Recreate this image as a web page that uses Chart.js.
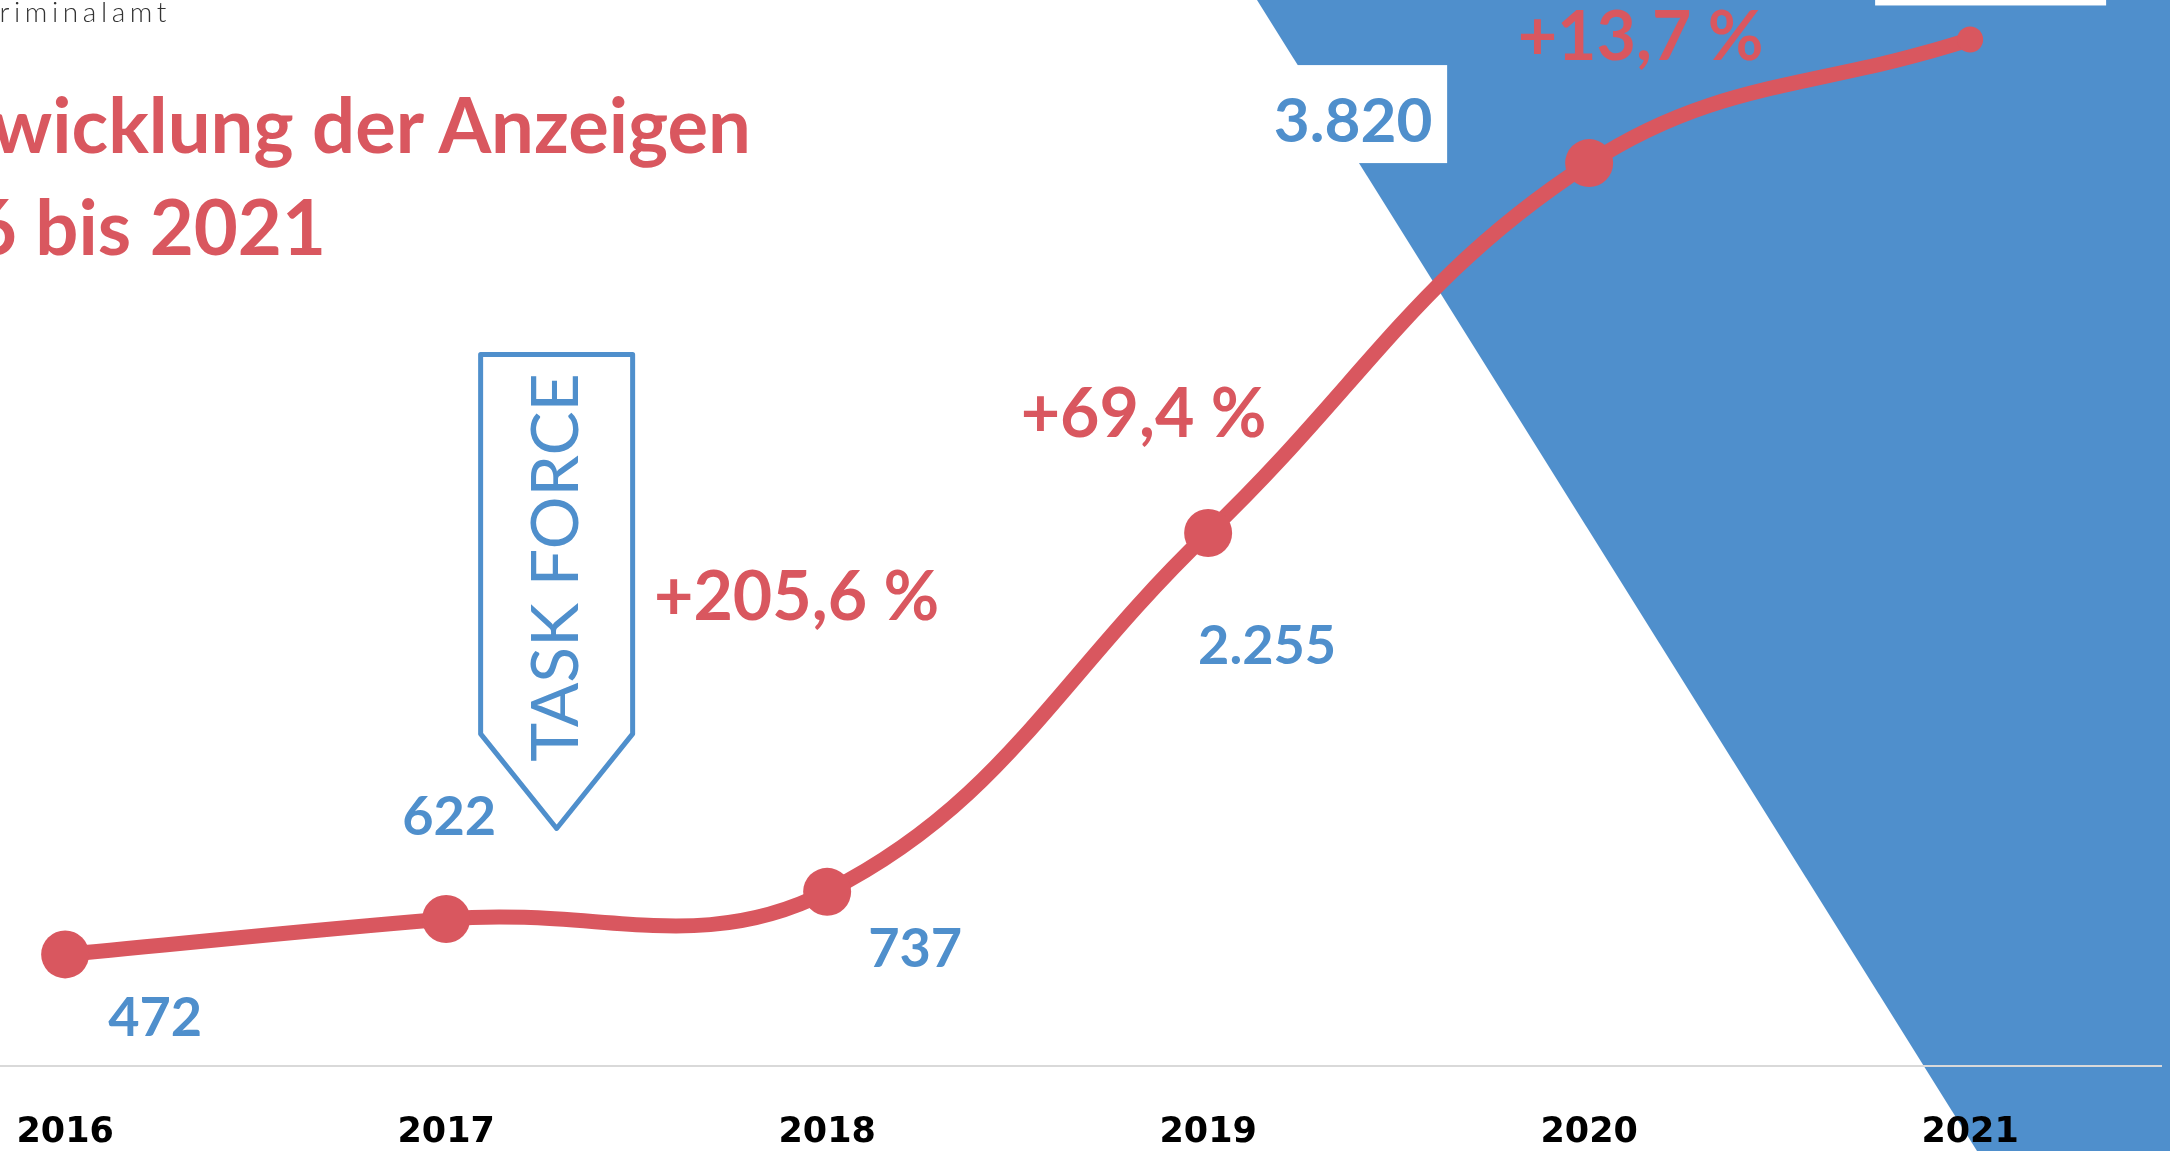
<!DOCTYPE html>
<html lang="de">
<head>
    <meta charset="UTF-8">
    <title>Entwicklung der Anzeigen 2016 bis 2021</title>
    <script src="https://cdn.jsdelivr.net/npm/chart.js"></script>
    <style>
        html, body { margin: 0; padding: 0; background: #fff; overflow: hidden; }
        #wrap { position: relative; width: 2170px; height: 1151px; overflow: hidden; }
        #chart { position: absolute; left: 0; top: 0; }
        .src {
            position: absolute; right: 1999px; top: -3px;
            font: 300 28px Lato; line-height: 1; letter-spacing: 4.6px;
            color: #333; white-space: nowrap;
        }
        .title {
            position: absolute; font: 700 76px Lato; line-height: 1;
            color: #D9575F; white-space: nowrap;
        }
    </style>
</head>
<body>
<div id="wrap">
    <canvas id="chart" width="2170" height="1151"></canvas>
    <div class="src">Landeskriminalamt</div>
    <div class="title" style="right: 1419px; top: 86px;">Entwicklung der Anzeigen</div>
    <div class="title" style="right: 1844px; top: 188px;">2016 bis 2021</div>
</div>

<script>
    // data
    const years = [2016, 2017, 2018, 2019, 2020, 2021];
    const anzeigen = [472, 622, 737, 2255, 3820, 4343];
    const changeLabels = ["", "", "+205,6 %", "+69,4 %", "+13,7 %"]; // change into the next year

    const red = "#D9575F";
    const blue = "#4F8FCC";

    function fmt(v) {
        return String(v).replace(/\B(?=(\d{3})+(?!\d))/g, ".");
    }

    // blue backdrop on the right
    const backdrop = {
        id: "backdrop",
        beforeDraw(chart) {
            const { ctx, width, height } = chart;
            ctx.save();
            ctx.fillStyle = "#fff";
            ctx.fillRect(0, 0, width, height);
            ctx.fillStyle = blue;
            ctx.beginPath();
            ctx.moveTo(1257, 0);
            ctx.lineTo(1977, height);
            ctx.lineTo(width, height);
            ctx.lineTo(width, 0);
            ctx.closePath();
            ctx.fill();
            ctx.restore();
        }
    };

    // "TASK FORCE" arrow
    const taskForce = {
        id: "taskForce",
        beforeDatasetsDraw(chart, args, opts) {
            const ctx = chart.ctx;
            const xs = chart.scales.x, ys = chart.scales.y;
            const x = xs.getPixelForValue(opts.year);
            const top = ys.getPixelForValue(opts.top);
            const shoulder = ys.getPixelForValue(opts.shoulder);
            const tip = ys.getPixelForValue(opts.tip);
            const hw = 76;
            ctx.save();
            ctx.strokeStyle = blue;
            ctx.lineWidth = 5;
            ctx.lineJoin = "round";
            ctx.beginPath();
            ctx.moveTo(x - hw, top);
            ctx.lineTo(x + hw, top);
            ctx.lineTo(x + hw, shoulder);
            ctx.lineTo(x, tip);
            ctx.lineTo(x - hw, shoulder);
            ctx.closePath();
            ctx.stroke();
            ctx.translate(x, top + 213);
            ctx.rotate(-Math.PI / 2);
            ctx.fillStyle = blue;
            ctx.font = "400 66px Lato";
            ctx.textAlign = "center";
            ctx.textBaseline = "middle";
            ctx.fillText("TASK FORCE", 0, 0);
            ctx.restore();
        }
    };

    // value labels and change labels
    const labels = {
        id: "labels",
        afterDatasetsDraw(chart, args, opts) {
            const ctx = chart.ctx;
            const pts = chart.getDatasetMeta(0).data;
            ctx.save();
            ctx.textAlign = "center";
            ctx.textBaseline = "middle";

            pts.forEach((p, i) => {
                const b = opts.boxes[i];
                if (b) {
                    ctx.fillStyle = "#fff";
                    ctx.fillRect(p.x + b[0], p.y + b[1], b[2], b[3]);
                }
                const o = opts.valueOffsets[i];
                ctx.fillStyle = blue;
                ctx.font = "700 " + opts.valueSizes[i] + "px Lato";
                ctx.fillText(fmt(anzeigen[i]), p.x + o[0], p.y + o[1]);
            });

            ctx.fillStyle = red;
            ctx.font = "700 68px Lato";
            changeLabels.forEach((t, i) => {
                if (!t) return;
                const a = pts[i], b = pts[i + 1];
                const o = opts.changeOffsets[i];
                ctx.fillText(t, (a.x + b.x) / 2 + o[0], (a.y + b.y) / 2 + o[1]);
            });
            ctx.restore();
        }
    };

    new Chart(document.getElementById("chart"), {
        type: "line",
        data: {
            datasets: [{
                data: years.map((y, i) => ({ x: y, y: anzeigen[i] })),
                borderColor: red,
                backgroundColor: red,
                borderWidth: 15,
                borderCapStyle: "round",
                tension: 0.4,
                pointRadius: [24, 24, 24, 24, 24, 13],
                pointHoverRadius: [24, 24, 24, 24, 24, 13],
                pointBorderWidth: 0,
                clip: false
            }]
        },
        options: {
            responsive: false,
            animation: false,
            devicePixelRatio: 1,
            layout: { autoPadding: false, padding: { left: 0, right: 9, top: 0, bottom: 0 } },
            plugins: {
                legend: { display: false },
                tooltip: { enabled: false },
                taskForce: { year: 2017.29, top: 3010, shoulder: 1405, tip: 1005 },
                labels: {
                    valueOffsets: [[90, 64], [3, -101], [88, 58], [59, 114], [-236, -41], [20, -83]],
                    valueSizes: [54, 54, 54, 54, 62, 54],
                    boxes: [null, null, null, null, [-322, -98, 180, 98], [-95, -132, 231, 98]],
                    changeOffsets: [null, null, [-221, -114], [-255, 67], [-139, -63]]
                }
            },
            scales: {
                x: {
                    type: "linear",
                    min: 2015.829,
                    max: 2021.501,
                    afterBuildTicks: (scale) => { scale.ticks = years.map(v => ({ value: v })); },
                    afterFit: (scale) => {
                        scale.height = 85;
                        scale.paddingLeft = 0;
                        scale.paddingRight = 0;
                    },
                    grid: { display: false, drawTicks: false },
                    border: { display: true, color: "#d9d9d9", width: 2 },
                    ticks: {
                        autoSkip: false,
                        maxRotation: 0,
                        padding: 46,
                        color: "#000",
                        font: { family: "DejaVu Sans", weight: "bold", size: 35 },
                        callback: (v) => String(v)
                    }
                },
                y: { display: false, min: 0, max: 4510 }
            }
        },
        plugins: [backdrop, taskForce, labels]
    });
</script>
</body>
</html>
